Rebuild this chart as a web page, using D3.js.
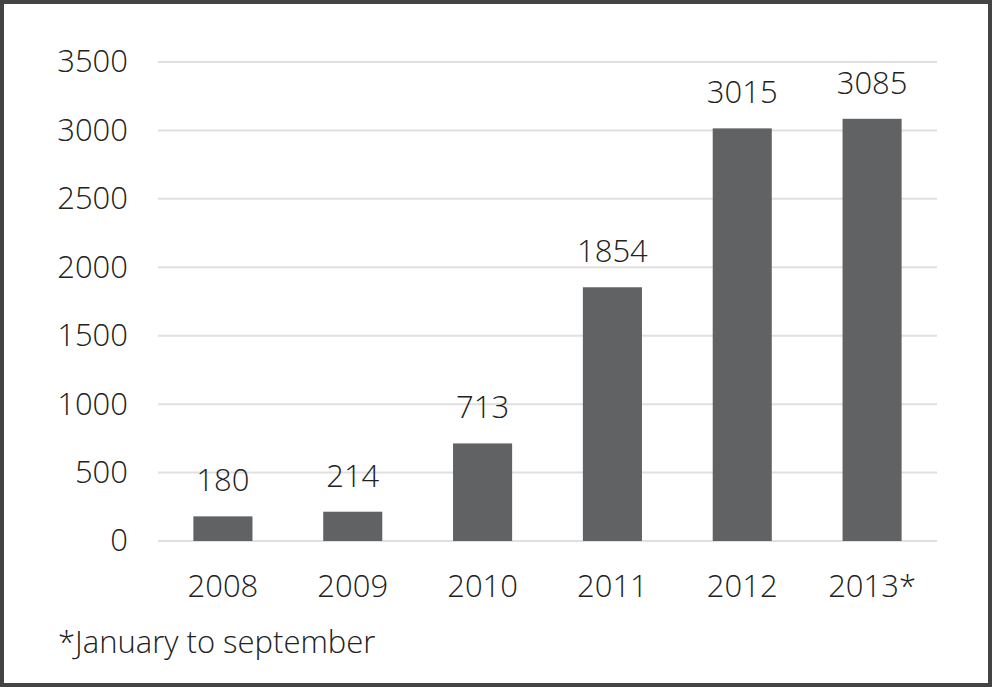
<!DOCTYPE html>
<html lang="en">
<head>
  <meta charset="UTF-8">
  <title>Bar chart</title>
  <script src="https://cdn.jsdelivr.net/npm/d3@7"></script>
  <style>
  html, body { margin: 0; padding: 0; background: #fff; }
  svg text {
    font-family: "Open Sans", "Noto Sans", sans-serif;
    font-size: 31px;
    font-weight: 300;
    fill: #222;
  }
  </style>
</head>
<body>
  <svg id="chart" width="993" height="687"></svg>
  <script>
  // Data
  const years = ['2008', '2009', '2010', '2011', '2012', '2013*'];
  const counts = [180, 214, 713, 1854, 3015, 3085];
  const yTicks = [0, 500, 1000, 1500, 2000, 2500, 3000, 3500];
  const footnote = '*January to september';

  const width = 993, height = 687;
  const margin = {top: 62, right: 56, bottom: 146, left: 158};
  const svg = d3.select('#chart');

  // Frame
  svg.append('rect')
    .attr('x', 2).attr('y', 2)
    .attr('width', 988).attr('height', 683)
    .attr('fill', 'none')
    .attr('stroke', '#444')
    .attr('stroke-width', 4);

  const x = d3.scaleBand()
    .domain(years)
    .range([margin.left, width - margin.right])
    .paddingInner(0.545)
    .paddingOuter(0.2725);

  const y = d3.scaleLinear()
    .domain([0, 3500])
    .range([height - margin.bottom, margin.top]);

  // Gridlines
  svg.append('g')
    .selectAll('line')
    .data(yTicks)
    .join('line')
      .attr('x1', margin.left).attr('x2', width - margin.right)
      .attr('y1', d => y(d)).attr('y2', d => y(d))
      .attr('stroke', '#e0e0e0')
      .attr('stroke-width', 2);

  // Y axis labels (no thousands separator)
  const yAxis = svg.append('g')
    .attr('transform', `translate(${margin.left - 30},0)`)
    .call(d3.axisLeft(y).tickValues(yTicks).tickFormat(d3.format('d'))
      .tickSize(0).tickPadding(0));
  yAxis.select('.domain').remove();
  yAxis.selectAll('text')
    .attr('fill', null)
    .attr('font-size', null)
    .attr('font-family', null);

  // Bars
  svg.append('g')
    .selectAll('rect')
    .data(counts)
    .join('rect')
      .attr('x', (d, i) => x(years[i]))
      .attr('y', d => y(d))
      .attr('width', x.bandwidth())
      .attr('height', d => y(0) - y(d))
      .attr('fill', '#616264');

  // Value labels
  svg.append('g')
    .selectAll('text')
    .data(counts)
    .join('text')
      .attr('x', (d, i) => x(years[i]) + x.bandwidth() / 2)
      .attr('y', d => y(d) - 25)
      .attr('text-anchor', 'middle')
      .text(d => d);

  // X axis labels
  const xAxis = svg.append('g')
    .attr('transform', `translate(0,${y(0)})`)
    .call(d3.axisBottom(x).tickSize(0).tickPadding(0));
  xAxis.select('.domain').remove();
  xAxis.selectAll('text')
    .attr('fill', null)
    .attr('font-size', null)
    .attr('font-family', null)
    .attr('dy', null)
    .attr('y', 56);

  // Footnote
  svg.append('text')
    .attr('x', 58)
    .attr('y', 653)
    .text(footnote);
  </script>
</body>
</html>
